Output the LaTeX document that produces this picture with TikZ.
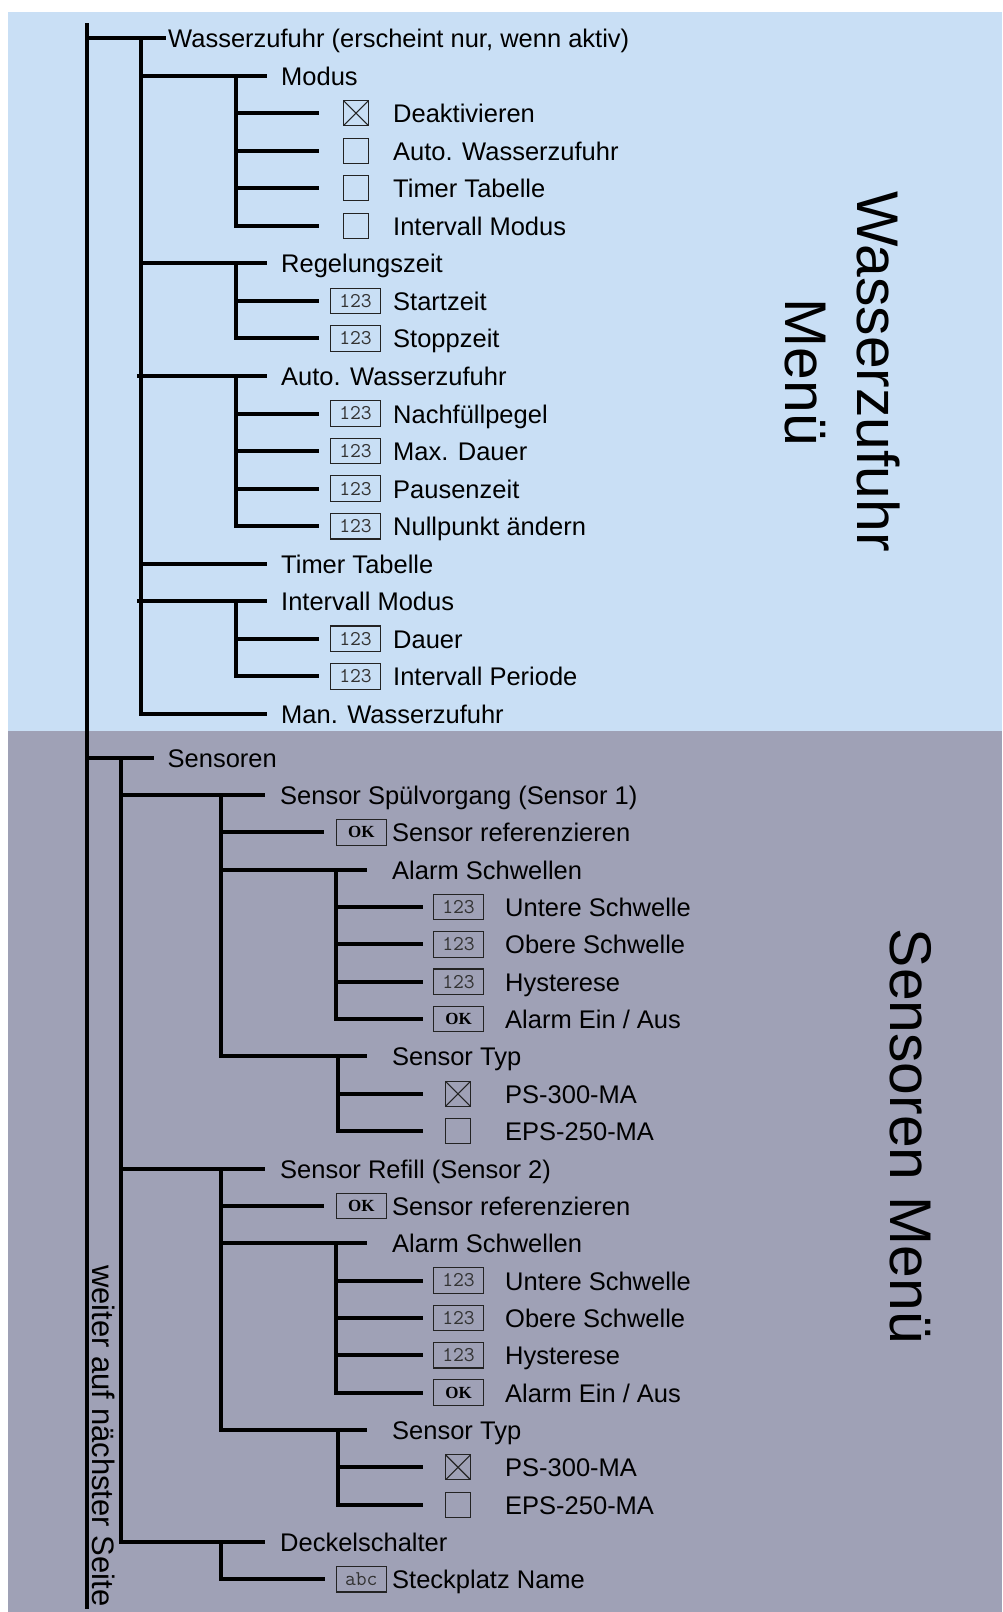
\documentclass[tikz,border=0pt]{standalone}
\usepackage{fontspec}
\setmainfont{Liberation Sans}
\newfontfamily\itemfam{Liberation Sans}
\newfontfamily\okfam{Liberation Serif}
\definecolor{bgblue}{RGB}{201,223,245}
\definecolor{bggray}{RGB}{159,161,182}
\definecolor{boxline}{RGB}{35,35,35}
\definecolor{boxtext}{RGB}{50,50,50}
\newcommand\wy[1]{(38+37.55*#1)}
\newcommand\sy[1]{(757.7+37.345*#1)}
\tikzset{
  conn/.style={line width=4pt, line cap=butt},
  bus/.style={line width=4pt, line cap=rect},
  itm/.style={anchor=base west, inner sep=0pt, font=\itemfam\fontsize{25.5}{30}\selectfont},
  vbox/.style={draw=boxline, line width=1.2pt, minimum width=50pt, minimum height=25.5pt, inner sep=0pt, text=boxtext, font=\ttfamily\fontsize{21}{21}\selectfont},
  okbox/.style={vbox, text=black, font=\okfam\bfseries\fontsize{17}{17}\selectfont},
  cbox/.style={draw=boxline, line width=1.2pt, minimum size=25pt, inner sep=0pt},
  cboxx/.style={cbox, path picture={\draw[boxline, line width=1.1pt]
      (path picture bounding box.north west) -- (path picture bounding box.south east)
      (path picture bounding box.north east) -- (path picture bounding box.south west);}},
  big/.style={rotate=-90, anchor=base, inner sep=0pt, font=\itemfam\fontsize{58.8}{70}\selectfont},
  cont/.style={rotate=-90, anchor=base west, inner sep=0pt, font=\itemfam\fontsize{31}{31}\selectfont},
}
% name, busx, endx, y, textx, label
\newcommand\branchnode[6]{%
  \coordinate (#1-s) at (#2,{#4});
  \coordinate (#1-e) at (#3,{#4});
  \draw[conn] (#1-s) -- (#1-e);
  \node[itm] (#1) at (#5,{#4+9.5}) {#6};
}
% name, busx, endx, y, boxstyle, boxx, boxtext, textx, label
\newcommand\leafnode[9]{%
  \coordinate (#1-s) at (#2,{#4});
  \coordinate (#1-e) at (#3,{#4});
  \draw[conn] (#1-s) -- (#1-e);
  \node[#5] (#1-box) at (#6,{#4}) {#7};
  \node[itm] (#1) at (#8,{#4+9.5}) {#9};
}
\begin{document}
\begin{tikzpicture}[x=1pt,y=-1pt]
\useasboundingbox (0,0) rectangle (1002,1612);
\fill[bgblue] (8,12) rectangle (1002,731);
\fill[bggray] (8,731) rectangle (1002,1612);

\coordinate (trunktop) at (87,25);
\coordinate (trunkbot) at (87,1607);
\draw[bus] (trunktop) -- (trunkbot);

% ---------------- Wasserzufuhr ----------------
\branchnode{n0}{87}{166}{\wy{0}}{168}{Wasserzufuhr (erscheint nur, wenn aktiv)}
\branchnode{n1}{141}{267}{\wy{1}}{281}{Modus}
\leafnode{n2}{236}{319}{\wy{2}}{cboxx}{356}{}{393}{Deaktivieren}
\leafnode{n3}{236}{319}{\wy{3}}{cbox}{356}{}{393}{Auto. Wasserzufuhr}
\leafnode{n4}{236}{319}{\wy{4}}{cbox}{356}{}{393}{Timer Tabelle}
\leafnode{n5}{236}{319}{\wy{5}}{cbox}{356}{}{393}{Intervall Modus}
\branchnode{n6}{141}{267}{\wy{6}}{281}{Regelungszeit}
\leafnode{n7}{236}{319}{\wy{7}}{vbox}{355.5}{123}{393}{Startzeit}
\leafnode{n8}{236}{319}{\wy{8}}{vbox}{355.5}{123}{393}{Stoppzeit}
\branchnode{n9}{137}{267}{\wy{9}}{281}{Auto. Wasserzufuhr}
\leafnode{n10}{236}{319}{\wy{10}}{vbox}{355.5}{123}{393}{Nachfüllpegel}
\leafnode{n11}{236}{319}{\wy{11}}{vbox}{355.5}{123}{393}{Max. Dauer}
\leafnode{n12}{236}{319}{\wy{12}}{vbox}{355.5}{123}{393}{Pausenzeit}
\leafnode{n13}{236}{319}{\wy{13}}{vbox}{355.5}{123}{393}{Nullpunkt ändern}
\branchnode{n14}{141}{267}{\wy{14}}{281}{Timer Tabelle}
\branchnode{n15}{137}{267}{\wy{15}}{281}{Intervall Modus}
\leafnode{n16}{236}{319}{\wy{16}}{vbox}{355.5}{123}{393}{Dauer}
\leafnode{n17}{236}{319}{\wy{17}}{vbox}{355.5}{123}{393}{Intervall Periode}
\branchnode{n18}{141}{267}{\wy{18}}{281}{Man. Wasserzufuhr}

\draw[bus] (n0-s -| n1-s) -- (n18-s);
\draw[bus] (n1-s -| n2-s) -- (n5-s);
\draw[bus] (n6-s -| n7-s) -- (n8-s);
\draw[bus] (n9-s -| n10-s) -- (n13-s);
\draw[bus] (n15-s -| n16-s) -- (n17-s);

% ---------------- Sensoren ----------------
\branchnode{s0}{87}{154}{\sy{0}}{167.5}{Sensoren}
\branchnode{s1}{121}{265}{\sy{1}}{280}{Sensor Spülvorgang (Sensor 1)}
\leafnode{s2}{221}{324}{\sy{2}}{okbox}{361.3}{OK}{392}{Sensor referenzieren}
\branchnode{s3}{221}{367}{\sy{3}}{392}{Alarm Schwellen}
\leafnode{s4}{336}{423}{\sy{4}}{vbox}{458.5}{123}{505}{Untere Schwelle}
\leafnode{s5}{336}{423}{\sy{5}}{vbox}{458.5}{123}{505}{Obere Schwelle}
\leafnode{s6}{336}{423}{\sy{6}}{vbox}{458.5}{123}{505}{Hysterese}
\leafnode{s7}{336}{423}{\sy{7}}{okbox}{458.5}{OK}{505}{Alarm Ein / Aus}
\branchnode{s8}{221}{367}{\sy{8}}{392}{Sensor Typ}
\leafnode{s9}{338}{423}{\sy{9}}{cboxx}{458}{}{505}{PS-300-MA}
\leafnode{s10}{338}{423}{\sy{10}}{cbox}{458}{}{505}{EPS-250-MA}
\branchnode{s11}{121}{265}{\sy{11}}{280}{Sensor Refill (Sensor 2)}
\leafnode{s12}{221}{324}{\sy{12}}{okbox}{361.3}{OK}{392}{Sensor referenzieren}
\branchnode{s13}{221}{367}{\sy{13}}{392}{Alarm Schwellen}
\leafnode{s14}{336}{423}{\sy{14}}{vbox}{458.5}{123}{505}{Untere Schwelle}
\leafnode{s15}{336}{423}{\sy{15}}{vbox}{458.5}{123}{505}{Obere Schwelle}
\leafnode{s16}{336}{423}{\sy{16}}{vbox}{458.5}{123}{505}{Hysterese}
\leafnode{s17}{336}{423}{\sy{17}}{okbox}{458.5}{OK}{505}{Alarm Ein / Aus}
\branchnode{s18}{221}{367}{\sy{18}}{392}{Sensor Typ}
\leafnode{s19}{338}{423}{\sy{19}}{cboxx}{458}{}{505}{PS-300-MA}
\leafnode{s20}{338}{423}{\sy{20}}{cbox}{458}{}{505}{EPS-250-MA}
\branchnode{s21}{121}{265}{\sy{21}}{280}{Deckelschalter}
\leafnode{s22}{221}{325}{\sy{22}}{vbox}{361.3}{abc}{392}{Steckplatz Name}

\draw[bus] (s0-s -| s1-s) -- (s21-s);
\draw[bus] (s1-s -| s2-s) -- (s8-s);
\draw[bus] (s3-s -| s4-s) -- (s7-s);
\draw[bus] (s8-s -| s9-s) -- (s10-s);
\draw[bus] (s11-s -| s12-s) -- (s18-s);
\draw[bus] (s13-s -| s14-s) -- (s17-s);
\draw[bus] (s18-s -| s19-s) -- (s20-s);
\draw[bus] (s21-s -| s22-s) -- (s22-s);

% ---------------- labels ----------------
\node[big] (wm1) at (857,371.5) {Wasserzufuhr};
\node[big] (wm2) at (785,372.5) {Menü};
\node[big] (sm) at (890,1136.5) {Sensoren Menü};
\node[cont] (weiter) at (92,1265) {weiter auf nächster Seite};
\end{tikzpicture}
\end{document}
